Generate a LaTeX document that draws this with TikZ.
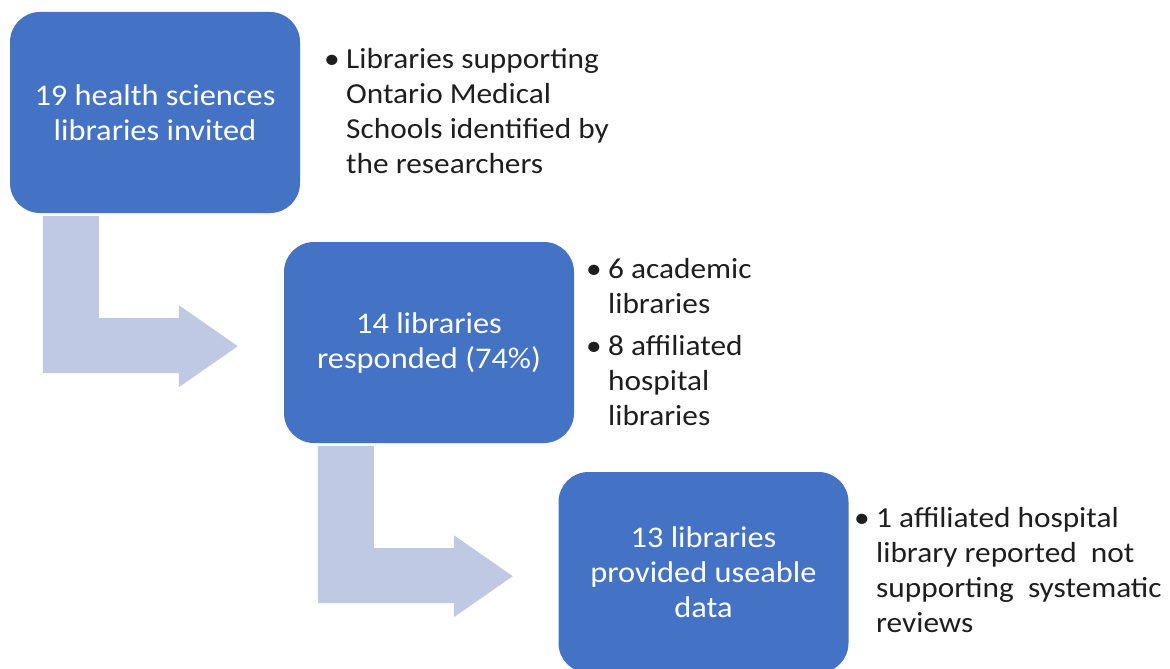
\documentclass[tikz,border=0pt]{standalone}
\usepackage{fontspec}
\setmainfont{Carlito}[FakeStretch=1.08]
\usetikzlibrary{calc}
\definecolor{boxblue}{RGB}{68,114,196}
\definecolor{arrowblue}{RGB}{192,201,228}
\definecolor{notetext}{RGB}{30,30,30}
\tikzset{
  stagebox/.style={rectangle, rounded corners=30pt, fill=boxblue, draw=none,
    minimum width=290pt, minimum height=201pt, inner sep=0pt,
    text=white, align=center, font=\fontsize{30}{35}\selectfont},
  notelist/.style={anchor=base west, inner sep=0pt, text=notetext,
    font=\fontsize{29}{35}\selectfont},
  pics/bentarrow/.style={code={
    \fill[arrowblue] (0,0) -- (56,0) -- (56,102) -- (136,102) -- (136,89)
      -- (195,130) -- (136,171) -- (136,157) -- (0,157) -- cycle;
  }}
}
\newcommand{\bul}{\makebox[22pt][l]{\textbullet}}
\begin{document}
\begin{tikzpicture}[x=1pt, y=-1pt]
\useasboundingbox (0,0) rectangle (1170,669);
\clip (0,0) rectangle (1170,669);

% stage boxes
\node[stagebox] (b1) at (155,112.5) {19 health sciences\\libraries invited};
\node[stagebox] (b2) at (429,342.5) {14 libraries\\responded (74\%)};
\node[stagebox] (b3) at (703.5,572.5) {13 libraries\\provided useable\\data};

% bent arrows leading from one stage to the next
\pic at ($(b1.south west)+(33,3)$) {bentarrow};
\pic at ($(b2.south west)+(34,3)$) {bentarrow};

% notes beside each stage
\node[notelist] (n1) at (324,69) {\begin{tabular}[t]{@{}l@{}l@{}}
  \bul & Libraries supporting\\
       & Ontario Medical\\
       & Schools identified by\\
       & the researchers
\end{tabular}};
\node[notelist] (n2) at (586,278) {\begin{tabular}[t]{@{}l@{}l@{}}
  \bul & 6 academic\\
       & libraries\\[7pt]
  \bul & 8 affiliated\\
       & hospital\\
       & libraries
\end{tabular}};
\node[notelist] (n3) at (854,527) {\begin{tabular}[t]{@{}l@{}l@{}}
  \bul & 1 affiliated hospital\\
       & library reported~ not\\
       & supporting~ systematic\\
       & reviews
\end{tabular}};
\end{tikzpicture}
\end{document}
